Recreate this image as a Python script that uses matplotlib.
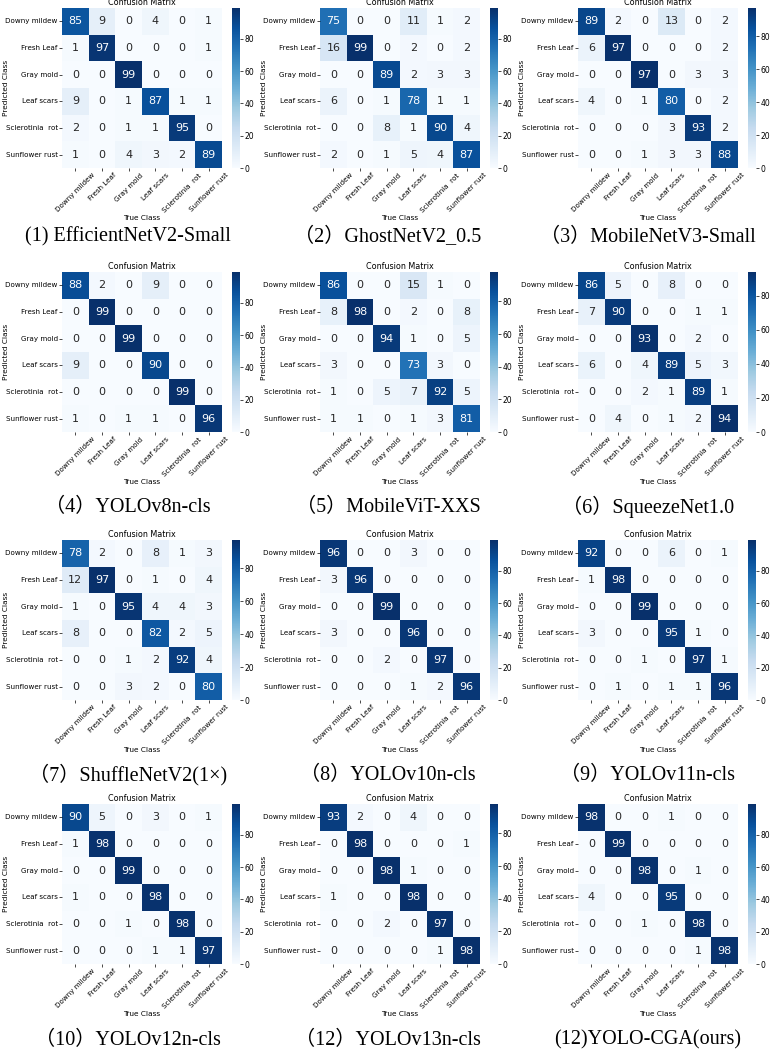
import numpy as np
import matplotlib
matplotlib.use("Agg")
import matplotlib.pyplot as plt
import seaborn as sns

classes = ["Downy mildew", "Fresh Leaf", "Gray mold", "Leaf scars",
           "Sclerotinia  rot", "Sunflower rust"]

# rows = predicted class, cols = true class
cm_efficientnet = [[85, 9, 0, 4, 0, 1],
                   [1, 97, 0, 0, 0, 1],
                   [0, 0, 99, 0, 0, 0],
                   [9, 0, 1, 87, 1, 1],
                   [2, 0, 1, 1, 95, 0],
                   [1, 0, 4, 3, 2, 89]]
cm_ghostnet = [[75, 0, 0, 11, 1, 2],
               [16, 99, 0, 2, 0, 2],
               [0, 0, 89, 2, 3, 3],
               [6, 0, 1, 78, 1, 1],
               [0, 0, 8, 1, 90, 4],
               [2, 0, 1, 5, 4, 87]]
cm_mobilenet = [[89, 2, 0, 13, 0, 2],
                [6, 97, 0, 0, 0, 2],
                [0, 0, 97, 0, 3, 3],
                [4, 0, 1, 80, 0, 2],
                [0, 0, 0, 3, 93, 2],
                [0, 0, 1, 3, 3, 88]]
cm_yolov8 = [[88, 2, 0, 9, 0, 0],
             [0, 99, 0, 0, 0, 0],
             [0, 0, 99, 0, 0, 0],
             [9, 0, 0, 90, 0, 0],
             [0, 0, 0, 0, 99, 0],
             [1, 0, 1, 1, 0, 96]]
cm_mobilevit = [[86, 0, 0, 15, 1, 0],
                [8, 98, 0, 2, 0, 8],
                [0, 0, 94, 1, 0, 5],
                [3, 0, 0, 73, 3, 0],
                [1, 0, 5, 7, 92, 5],
                [1, 1, 0, 1, 3, 81]]
cm_squeezenet = [[86, 5, 0, 8, 0, 0],
                 [7, 90, 0, 0, 1, 1],
                 [0, 0, 93, 0, 2, 0],
                 [6, 0, 4, 89, 5, 3],
                 [0, 0, 2, 1, 89, 1],
                 [0, 4, 0, 1, 2, 94]]
cm_shufflenet = [[78, 2, 0, 8, 1, 3],
                 [12, 97, 0, 1, 0, 4],
                 [1, 0, 95, 4, 4, 3],
                 [8, 0, 0, 82, 2, 5],
                 [0, 0, 1, 2, 92, 4],
                 [0, 0, 3, 2, 0, 80]]
cm_yolov10 = [[96, 0, 0, 3, 0, 0],
              [3, 96, 0, 0, 0, 0],
              [0, 0, 99, 0, 0, 0],
              [3, 0, 0, 96, 0, 0],
              [0, 0, 2, 0, 97, 0],
              [0, 0, 0, 1, 2, 96]]
cm_yolov11 = [[92, 0, 0, 6, 0, 1],
              [1, 98, 0, 0, 0, 0],
              [0, 0, 99, 0, 0, 0],
              [3, 0, 0, 95, 1, 0],
              [0, 0, 1, 0, 97, 1],
              [0, 1, 0, 1, 1, 96]]
cm_yolov12 = [[90, 5, 0, 3, 0, 1],
              [1, 98, 0, 0, 0, 0],
              [0, 0, 99, 0, 0, 0],
              [1, 0, 0, 98, 0, 0],
              [0, 0, 1, 0, 98, 0],
              [0, 0, 0, 1, 1, 97]]
cm_yolov13 = [[93, 2, 0, 4, 0, 0],
              [0, 98, 0, 0, 0, 1],
              [0, 0, 98, 1, 0, 0],
              [1, 0, 0, 98, 0, 0],
              [0, 0, 2, 0, 97, 0],
              [0, 0, 0, 0, 1, 98]]
cm_yolo_cga = [[98, 0, 0, 1, 0, 0],
               [0, 99, 0, 0, 0, 0],
               [0, 0, 98, 0, 1, 0],
               [4, 0, 0, 95, 0, 0],
               [0, 0, 1, 0, 98, 0],
               [0, 0, 0, 0, 1, 98]]

captions = ["(1) EfficientNetV2-Small", "（2）GhostNetV2_0.5", "（3）MobileNetV3-Small",
            "（4）YOLOv8n-cls", "（5）MobileViT-XXS", "（6）SqueezeNet1.0",
            "（7）ShuffleNetV2(1×)", "（8）YOLOv10n-cls", "（9）YOLOv11n-cls",
            "（10）YOLOv12n-cls", "（12）YOLOv13n-cls", "(12)YOLO-CGA(ours)"]

matrices = [cm_efficientnet, cm_ghostnet, cm_mobilenet, cm_yolov8,
            cm_mobilevit, cm_squeezenet, cm_shufflenet, cm_yolov10,
            cm_yolov11, cm_yolov12, cm_yolov13, cm_yolo_cga]

W, H = 770, 1049
fig = plt.figure(figsize=(W / 100, H / 100), dpi=100)

# pixel layout
col_left = [62, 320, 578]
col_center = [128, 388, 648]
row_top = [8, 272, 540, 804]
cap_y = [237, 507, 775, 1040]
size = 160

for i, (cm, cap) in enumerate(zip(matrices, captions)):
    r, c = divmod(i, 3)
    x0, y0 = col_left[c], row_top[r]
    ax = fig.add_axes([x0 / W, 1 - (y0 + size) / H, size / W, size / H])
    cax = fig.add_axes([(x0 + size + 10) / W, 1 - (y0 + size) / H, 8 / W, size / H])
    sns.heatmap(np.array(cm), annot=True, fmt="d", cmap="Blues", ax=ax, cbar_ax=cax,
                xticklabels=classes, yticklabels=classes, annot_kws={"size": 8})
    ax.set_title("Confusion Matrix", fontsize=5.8, pad=2)
    ax.set_xlabel("True Class", fontsize=5.3, labelpad=1)
    ax.set_ylabel("Predicted Class", fontsize=5.3)
    # put the y label at the far left of each panel, like the reference
    ax.yaxis.set_label_coords(-0.33, 0.5)
    ax.tick_params(axis="both", labelsize=5.1, length=2, width=0.5, pad=1)
    plt.setp(ax.get_xticklabels(), rotation=45, ha="center")
    plt.setp(ax.get_yticklabels(), rotation=0)
    cax.tick_params(labelsize=5.5, length=2, width=0.5, pad=1)
    cax.set_yticks([0, 20, 40, 60, 80])
    fig.text(col_center[c] / W, 1 - cap_y[r] / H, cap, ha="center", va="center",
             fontsize=14.5, family=["Liberation Serif", "Noto Sans CJK SC"])

fig.savefig("out.png", dpi=100)
